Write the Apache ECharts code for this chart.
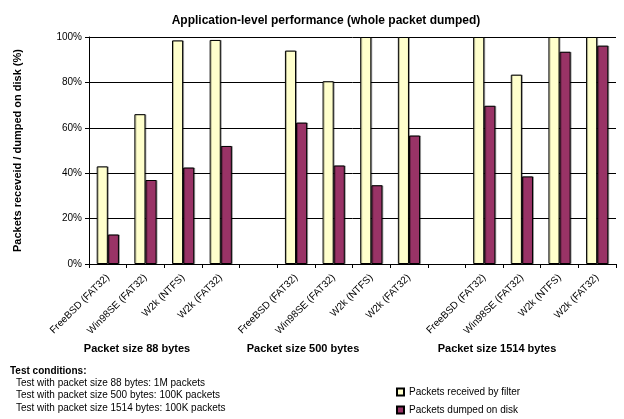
<!DOCTYPE html>
<html>
<head>
<meta charset="utf-8">
<script src="https://cdn.jsdelivr.net/npm/echarts@6/dist/echarts.min.js"></script>
<style>
html,body{margin:0;padding:0;background:#fff;}
#chart{width:624px;height:419px;}
</style>
</head>
<body>
<div id="chart"></div>
<script>
var categories = ['FreeBSD (FAT32)', 'Win98SE (FAT32)', 'W2k (NTFS)', 'W2k (FAT32)', '',
                  'FreeBSD (FAT32)', 'Win98SE (FAT32)', 'W2k (NTFS)', 'W2k (FAT32)', '',
                  'FreeBSD (FAT32)', 'Win98SE (FAT32)', 'W2k (NTFS)', 'W2k (FAT32)'];
var received = [43, 66, 98.5, 98.7, null, 94, 80.5, 100, 100, null, 100, 83.4, 100, 100];
var dumped = [13, 37, 42.5, 52, null, 62.3, 43.4, 34.7, 56.6, null, 69.7, 38.6, 93.5, 96.2];
var yTicks = [0, 20, 40, 60, 80, 100];
var groupLabels = ['Packet size 88 bytes', 'Packet size 500 bytes', 'Packet size 1514 bytes'];
var conditionsTitle = 'Test conditions:';
var conditions = ['Test with packet size 88 bytes: 1M packets',
                  'Test with packet size 500 bytes: 100K packets',
                  'Test with packet size 1514 bytes: 100K packets'];
var seriesNames = ['Packets received by filter', 'Packets dumped on disk'];

var FONT = '"Liberation Sans", Arial, sans-serif';
var chart = echarts.init(document.getElementById('chart'));

var groupX = [137, 303, 497];
var graphics = [];
groupLabels.forEach(function (t, i) {
  graphics.push({type: 'text', x: groupX[i], y: 343,
    style: {text: t, font: 'bold 11px ' + FONT, fill: '#000', textAlign: 'center', align: 'center'}});
});
graphics.push({type: 'text', left: 10, top: 366, style: {text: conditionsTitle, font: 'bold 10px ' + FONT, fill: '#000'}});
conditions.forEach(function (t, i) {
  graphics.push({type: 'text', left: 16, top: 378 + i * 12.5, style: {text: t, font: '10px ' + FONT, fill: '#000'}});
});

chart.setOption({
  animation: false,
  backgroundColor: '#fff',
  title: {
    text: 'Application-level performance (whole packet dumped)',
    left: 321, top: 10, textAlign: 'center',
    textStyle: {fontFamily: FONT, fontSize: 12, fontWeight: 'bold', color: '#000'}
  },
  legend: {
    orient: 'vertical', left: 391, bottom: -1, itemWidth: 7, itemHeight: 7, itemGap: 8,
    icon: 'rect', data: seriesNames,
    textStyle: {fontFamily: FONT, fontSize: 10, color: '#000', padding: [0, 0, 0, 0]}
  },
  grid: {left: 89, right: 8, top: 37, bottom: 155, containLabel: false},
  xAxis: {
    type: 'category', data: categories, boundaryGap: true,
    axisLine: {lineStyle: {color: '#000', width: 1}},
    axisTick: {show: true, interval: 0, length: 4, lineStyle: {color: '#000'}},
    axisLabel: {interval: 0, rotate: 45, fontFamily: FONT, fontSize: 10, color: '#000', margin: 12}
  },
  yAxis: {
    type: 'value', min: yTicks[0], max: yTicks[yTicks.length - 1], interval: 20,
    name: 'Packets receveid / dumped on disk (%)', nameLocation: 'middle', nameRotate: 90, nameGap: 66,
    nameTextStyle: {fontFamily: FONT, fontSize: 11, fontWeight: 'bold', color: '#000'},
    axisLine: {show: true, lineStyle: {color: '#000', width: 1}},
    axisTick: {show: true, length: 4, lineStyle: {color: '#000'}},
    axisLabel: {formatter: '{value}%', fontFamily: FONT, fontSize: 10, color: '#000', margin: 7},
    splitLine: {show: true, lineStyle: {color: '#000', width: 1}}
  },
  series: [
    {name: seriesNames[0], type: 'bar', data: received, barGap: '0%', barCategoryGap: '41%',
     itemStyle: {color: '#FFFFCC', borderColor: '#000', borderWidth: 1,
       shadowColor: 'rgba(0,0,0,0.3)', shadowOffsetX: 1, shadowOffsetY: 0, shadowBlur: 0}},
    {name: seriesNames[1], type: 'bar', data: dumped,
     itemStyle: {color: '#993366', borderColor: '#000', borderWidth: 1,
       shadowColor: 'rgba(0,0,0,0.3)', shadowOffsetX: 1, shadowOffsetY: 0, shadowBlur: 0}}
  ],
  graphic: graphics
});
</script>
</body>
</html>
